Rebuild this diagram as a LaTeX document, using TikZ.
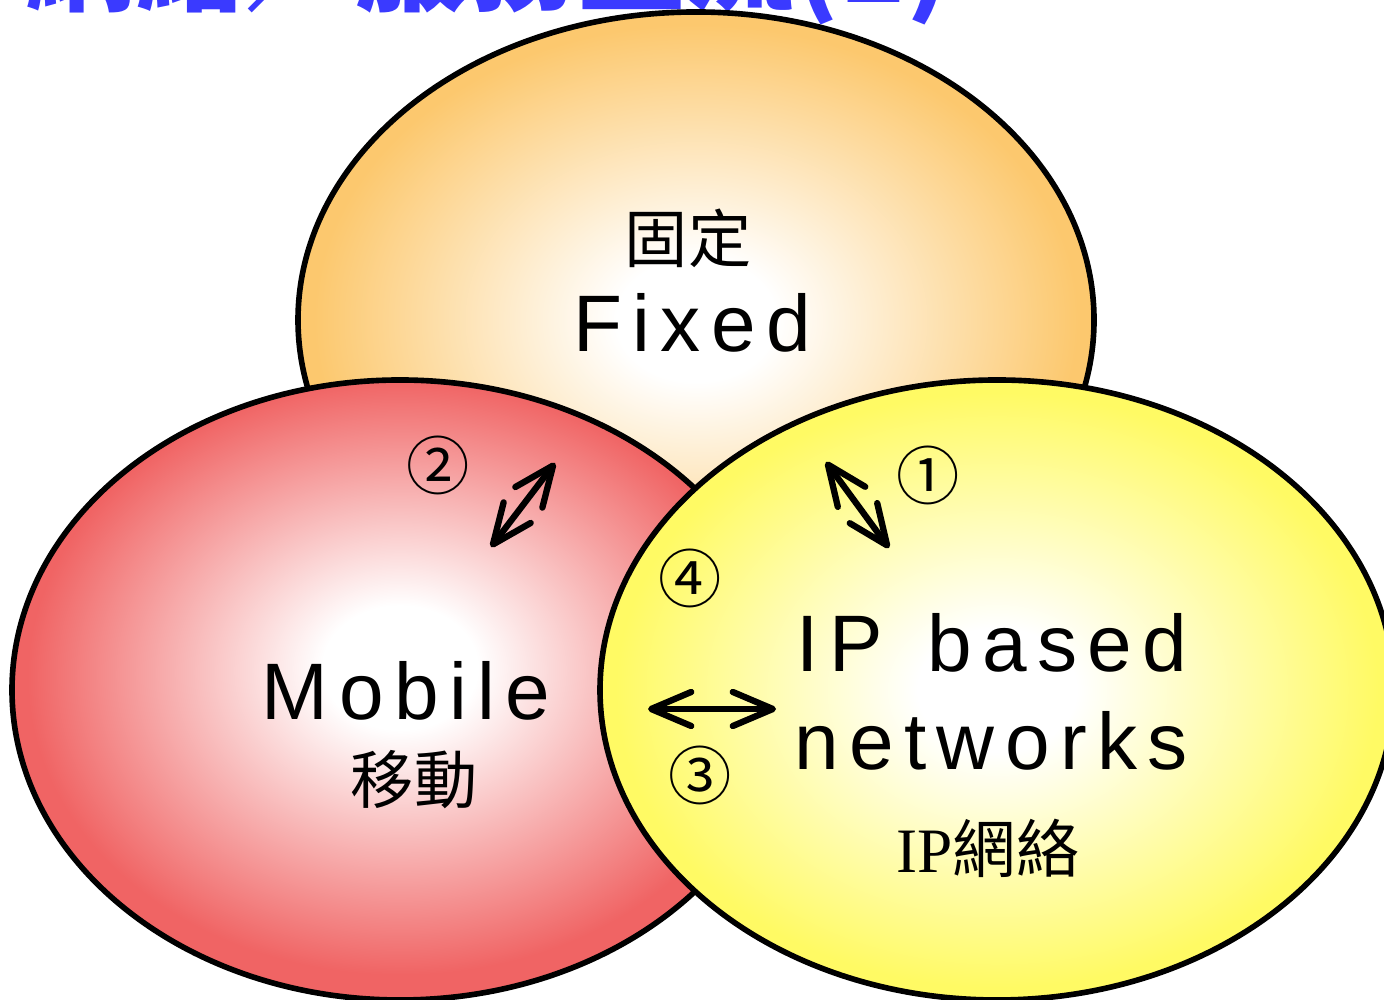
\documentclass[tikz,border=0pt]{standalone}
\usepackage{fontspec}
\setmainfont{Liberation Sans}
\newfontfamily\cjk{Noto Sans CJK TC}
\newfontfamily\spaced[LetterSpace=13]{Liberation Sans}
\newfontfamily\ipserif{Liberation Serif}
\usetikzlibrary{shapes.geometric,arrows.meta}

\definecolor{titleblue}{RGB}{58,58,255}
\definecolor{fixedorange}{RGB}{252,200,110}
\definecolor{mobilered}{RGB}{240,100,100}
\definecolor{ipyellow}{RGB}{255,250,100}

\pgfdeclareradialshading{fixedshade}{\pgfpoint{0bp}{0bp}}{color(0bp)=(white); color(5bp)=(white); color(24bp)=(fixedorange); color(50bp)=(fixedorange)}
\pgfdeclareradialshading{mobileshade}{\pgfpoint{0bp}{2bp}}{color(0bp)=(white); color(5bp)=(white); color(24bp)=(mobilered); color(50bp)=(mobilered)}
\pgfdeclareradialshading{ipshade}{\pgfpoint{0bp}{0bp}}{color(0bp)=(white); color(5bp)=(white); color(24bp)=(ipyellow); color(50bp)=(ipyellow)}

\begin{document}
\begin{tikzpicture}
[>={Straight Barb[length=4mm,width=3.4mm,round]},
 area/.style={ellipse,draw,shade,line width=1.6pt,inner sep=0pt,outer sep=0pt},
 big/.style={font=\spaced\fontsize{22.8}{26}\selectfont,inner sep=0pt},
 han/.style={font=\cjk\fontsize{18}{20}\selectfont,inner sep=0pt},
 num/.style={font=\cjk\fontsize{18}{20}\selectfont,inner sep=0pt},
 link/.style={<->,line width=1.8pt,line cap=round}]

\useasboundingbox (0,0) rectangle (13.84,10);

% the title, cut at the top
\node[anchor=base west,inner sep=0pt,text=titleblue,font=\cjk\bfseries\fontsize{31.3}{34}\selectfont] (title) at (0.25,9.97) {網絡／服務匯流(1)};

% the three areas
\node[area,shading=fixedshade,minimum width=7.96cm,minimum height=6.16cm] (fixed) at (6.96,6.80) {};
\node[area,shading=mobileshade,minimum width=7.76cm,minimum height=6.20cm] (mobile) at (4.00,3.10) {};
\node[area,shading=ipshade,minimum width=7.94cm,minimum height=6.20cm] (ip) at (9.97,3.10) {};

% labelling the areas
\node[han] (fixedzh) at (6.88,7.62) {固定};
\node[big,anchor=base] (fixedtxt) at (6.92,6.48) {Fixed};
\node[big,anchor=base] (mobiletxt) at (4.06,2.80) {Mobile};
\node[han] (mobilezh) at (4.14,2.20) {移動};
\node[big,anchor=base] (iptxt) at (9.92,3.28) {IP\hspace{1.2mm} based};
\node[big,anchor=base] (nettxt) at (9.91,2.30) {networks};
\node[han] (ipzh) at (9.88,1.52) {{\ipserif IP}網絡};

% the numbers
\node[num] (n1) at (9.28,5.25) {①};
\node[num] (n2) at (4.38,5.35) {②};
\node[num] (n3) at (7.00,2.25) {③};
\node[num] (n4) at (6.90,4.22) {④};

% the arrows between the areas
\coordinate (a1s) at (8.26,5.38);
\coordinate (a1e) at (8.89,4.52);
\coordinate (a2s) at (4.91,4.53);
\coordinate (a2e) at (5.55,5.37);
\coordinate (a3s) at (6.48,2.91);
\coordinate (a3e) at (7.76,2.91);
\draw[link] (a1s) -- (a1e);
\draw[link] (a2s) -- (a2e);
\draw[link] (a3s) -- (a3e);

\end{tikzpicture}
\end{document}
